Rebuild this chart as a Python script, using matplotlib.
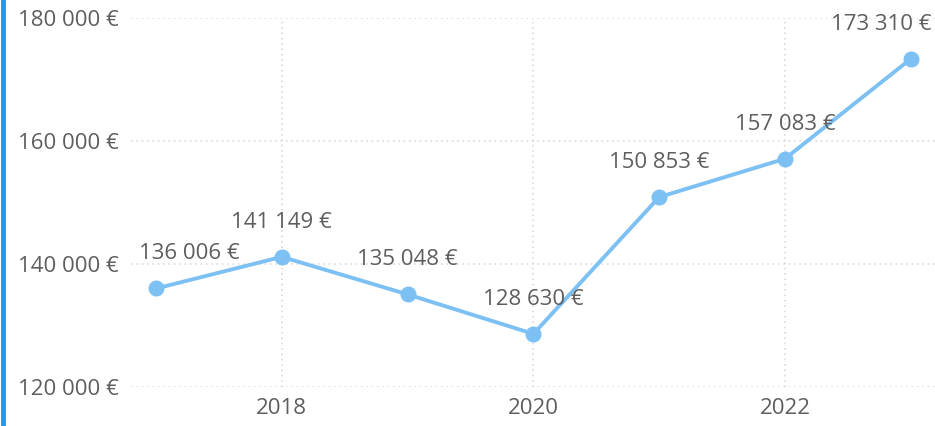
import matplotlib
matplotlib.use('Agg')
from matplotlib import pyplot as plt

years = [2017, 2018, 2019, 2020, 2021, 2022, 2023]
values = [136006, 141149, 135048, 128630, 150853, 157083, 173310]
yticks = [120000, 140000, 160000, 180000]
xticks = [2018, 2020, 2022]

def eur(v):
    return '{:,}'.format(v).replace(',', ' ') + ' €'

plt.rcParams['font.family'] = ['Open Sans', 'DejaVu Sans']
txt_col = '#605E5C'
line_col = '#7DC1F4'

fig = plt.figure(figsize=(9.35, 4.26), dpi=100)
ax = fig.add_axes([0.140, 0.0915, 0.861, 0.867])

ax.plot(years, values, color=line_col, linewidth=2.8, marker='o',
        markersize=10.5, zorder=3, clip_on=False)

ax.set_xlim(2016.8, 2023.2)
ax.set_ylim(120000, 180000)
ax.set_yticks(yticks)
ax.set_yticklabels([eur(v) for v in yticks])
ax.set_xticks(xticks)
ax.set_xticklabels([str(x) for x in xticks])
ax.tick_params(length=0, labelsize=16, colors=txt_col)
ax.tick_params(axis='y', pad=9)
ax.tick_params(axis='x', pad=8)
ax.grid(True, color='#D4D4D4', linestyle=(0, (1, 2.5)), linewidth=1.1)
for s in ax.spines.values():
    s.set_visible(False)

# data labels above points; end ones nudged to stay inside the plot area
shift = {0: 33, len(years) - 1: -30}
for i, (x, v) in enumerate(zip(years, values)):
    ax.annotate(eur(v), (x, v), xytext=(shift.get(i, 0), 24),
                textcoords='offset pixels', ha='center', va='bottom',
                fontsize=16, color=txt_col, annotation_clip=False)

fig.add_artist(plt.Line2D([0.0035, 0.0035], [0, 1], color='#1A9BF5',
                          linewidth=3.5, transform=fig.transFigure))

plt.savefig('out.png', dpi=100)
